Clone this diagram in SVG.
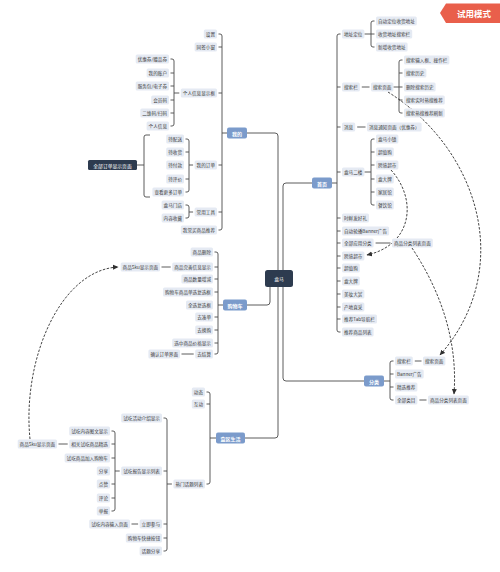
<svg xmlns="http://www.w3.org/2000/svg" width="500" height="572" viewBox="0 0 500 572">
<style>
text{font-family:"Noto Sans CJK SC","Noto Sans",sans-serif;text-anchor:middle;dominant-baseline:central}
.lb rect{fill:#e5eaf3}
.lb text{font-size:4.6px;fill:#3a3a3a}
.bn rect{fill:#7b9bcb}
.bn text{font-size:5px;fill:#fff;font-weight:bold}
.dn rect{fill:#2d3b4f}
.dn text{font-size:4.8px;fill:#fff}
.c path{fill:none;stroke:#4a4a4a;stroke-width:0.9}
.d path{fill:none;stroke:#2f2f2f;stroke-width:0.9;stroke-dasharray:2.5 1.5}
</style>
<defs>
<marker id="ah" markerUnits="userSpaceOnUse" markerWidth="6" markerHeight="6" refX="5" refY="3" orient="auto"><path d="M0,0.5 L5.5,3 L0,5.5 z" fill="#2f2f2f"/></marker>
</defs>
<rect width="500" height="572" fill="#ffffff"/>

<g id="connectors" class="c">
<!-- center -->
<path d="M278,270 V136 Q278,133 275,133 H247"/>
<path d="M283,270 V186 Q283,183 286,183 H312"/>
<path d="M270,287 V302 Q270,305 267,305 H247"/>
<path d="M278,287 V435 Q278,438 275,438 H245"/>
<path d="M283,287 V378 Q283,381 286,381 H364"/>
<!-- 首页 -->
<path d="M332,183 H337"/>
<path d="M340.5,34 H339 Q337,34 337,36 V330 Q337,332 339,332 H340.5"/>
<path d="M337,87 H340.5 M337,127 H340.5 M337,172 H340.5 M337,218 H340.5 M337,231 H340.5 M337,243 H340.5 M337,256 H340.5 M337,268 H340.5 M337,281 H340.5 M337,294 H340.5 M337,307 H340.5 M337,319 H340.5"/>
<path d="M364.4,34 H374.5"/>
<path d="M374.5,21 H373 Q371,21 371,23 V45 Q371,47 373,47 H374.5"/>
<path d="M361.8,87 H369.5"/>
<path d="M393.4,87 H399"/>
<path d="M402.5,60 H401 Q399,60 399,62 V111 Q399,113 401,113 H402.5"/>
<path d="M399,73 H402.5 M399,87 H402.5 M399,100 H402.5"/>
<path d="M357.2,127 H365.5"/>
<path d="M364.4,172 H371"/>
<path d="M374.5,139 H373 Q371,139 371,141 V203 Q371,205 373,205 H374.5"/>
<path d="M371,152 H374.5 M371,165 H374.5 M371,179 H374.5 M371,192 H374.5"/>
<path d="M375.6,243 H390.5"/>
<!-- 分类 -->
<path d="M384,381 H390"/>
<path d="M393.5,361 H392 Q390,361 390,363 V398 Q390,400 392,400 H393.5"/>
<path d="M390,374 H393.5 M390,387 H393.5"/>
<path d="M414.8,361 H421.5"/>
<path d="M419.4,400 H426.5"/>
<!-- 我的 -->
<path d="M227,133 H222"/>
<path d="M218.5,34 H220 Q222,34 222,36 V228 Q222,230 220,230 H218.5"/>
<path d="M222,47 H218.5 M222,93 H218.5 M222,165 H218.5 M222,212 H218.5"/>
<path d="M179.3,93 H174"/>
<path d="M170.5,59 H172 Q174,59 174,61 V124 Q174,126 172,126 H170.5"/>
<path d="M174,73 H170.5 M174,86 H170.5 M174,100 H170.5 M174,113 H170.5"/>
<path d="M193.1,165 H189"/>
<path d="M185.5,139 H187 Q189,139 189,141 V190 Q189,192 187,192 H185.5"/>
<path d="M189,152 H185.5 M189,179 H185.5"/>
<path d="M137,165 H144"/>
<path d="M150,135 H146 Q144,135 144,137 V195 Q144,197 146,197 H150"/>
<path d="M193.1,212 H189"/>
<path d="M185.5,205 H187 Q189,205 189,207 V216 Q189,218 187,218 H185.5"/>
<!-- 购物车 -->
<path d="M223,305 H218"/>
<path d="M214.5,252 H216 Q218,252 218,254 V352 Q218,354 216,354 H214.5"/>
<path d="M218,267 H214.5 M218,279 H214.5 M218,292 H214.5 M218,317 H214.5 M218,330 H214.5 M218,343 H214.5"/>
<path d="M170.7,267 H161.5"/>
<path d="M193.7,354 H181.5"/>
<!-- 盒区生活 -->
<path d="M216,438 H210"/>
<path d="M206.5,392 H208 Q210,392 210,394 V482 Q210,484 208,484 H206.5"/>
<path d="M210,404 H206.5"/>
<path d="M171.9,484 H167"/>
<path d="M163.5,418 H165 Q167,418 167,420 V549 Q167,551 165,551 H163.5"/>
<path d="M167,471 H163.5 M167,524 H163.5 M167,538 H163.5"/>
<path d="M138.1,524 H131.5"/>
<path d="M119.7,471 H115"/>
<path d="M111.5,431 H113 Q115,431 115,433 V509 Q115,511 113,511 H111.5"/>
<path d="M115,444 H111.5 M115,458 H111.5 M115,484 H111.5 M115,498 H111.5"/>
<path d="M67.7,444 H58.5"/>
</g>

<g id="dashed-links" class="d">
<path d="M388,92 C480,150 515,270 440,355" marker-end="url(#ah)"/>
<path d="M412,248 C440,290 458,340 454,394" marker-end="url(#ah)"/>
<path d="M391,170 C418,200 412,245 367,255" marker-end="url(#ah)"/>
<path d="M30,439 C22,360 60,270 118,267" marker-end="url(#ah)"/>
</g>

<!-- root -->
<g id="n-hema" class="dn"><rect x="265" y="270" width="28" height="17" rx="2.5"/><text x="279" y="278.5">盒马</text></g>

<!-- 首页 -->
<g id="n-shouye" class="bn"><rect x="312" y="177.5" width="20" height="11" rx="2"/><text x="322" y="183">首页</text></g>
<g id="n-dizhi" class="lb"><rect x="342" y="29.5" width="22.4" height="9" rx="1.5"/><text x="353.2" y="34">地址定位</text></g>
<g id="n-dz1" class="lb"><rect x="376" y="16.5" width="40.8" height="9" rx="1.5"/><text x="396.4" y="21">自动定位收货地址</text></g>
<g id="n-dz2" class="lb"><rect x="376" y="29.5" width="36.2" height="9" rx="1.5"/><text x="394.1" y="34">收货地址搜索栏</text></g>
<g id="n-dz3" class="lb"><rect x="376" y="42.5" width="31.6" height="9" rx="1.5"/><text x="391.8" y="47">新增收货地址</text></g>
<g id="n-sousuolan" class="lb"><rect x="342" y="82.5" width="17.8" height="9" rx="1.5"/><text x="350.9" y="87">搜索栏</text></g>
<g id="n-sousuoye" class="lb"><rect x="371" y="82.5" width="22.4" height="9" rx="1.5"/><text x="382.2" y="87">搜索页面</text></g>
<g id="n-ss1" class="lb"><rect x="404" y="55.5" width="45.4" height="9" rx="1.5"/><text x="426.7" y="60">搜索输入框、操作栏</text></g>
<g id="n-ss2" class="lb"><rect x="404" y="68.5" width="22.4" height="9" rx="1.5"/><text x="415.2" y="73">搜索历史</text></g>
<g id="n-ss3" class="lb"><rect x="404" y="82.5" width="31.6" height="9" rx="1.5"/><text x="419.8" y="87">删除搜索历史</text></g>
<g id="n-ss4" class="lb"><rect x="404" y="95.5" width="40.8" height="9" rx="1.5"/><text x="424.4" y="100">搜索实时热搜推荐</text></g>
<g id="n-ss5" class="lb"><rect x="404" y="108.5" width="40.8" height="9" rx="1.5"/><text x="424.4" y="113">搜索热搜推荐刷新</text></g>
<g id="n-xiaoxi" class="lb"><rect x="342" y="122.5" width="13.2" height="9" rx="1.5"/><text x="348.6" y="127">消息</text></g>
<g id="n-xiaoxiye" class="lb"><rect x="367" y="122.5" width="54.6" height="9" rx="1.5"/><text x="394.3" y="127">消息通知页面（优惠券）</text></g>
<g id="n-erlou" class="lb"><rect x="342" y="167.5" width="22.4" height="9" rx="1.5"/><text x="353.2" y="172">盒马二楼</text></g>
<g id="n-el1" class="lb"><rect x="376" y="134.5" width="22.4" height="9" rx="1.5"/><text x="387.2" y="139">盒马小镇</text></g>
<g id="n-el2" class="lb"><rect x="376" y="147.5" width="17.8" height="9" rx="1.5"/><text x="384.9" y="152">超值购</text></g>
<g id="n-el3" class="lb"><rect x="376" y="160.5" width="22.4" height="9" rx="1.5"/><text x="387.2" y="165">跨境超市</text></g>
<g id="n-el4" class="lb"><rect x="376" y="174.5" width="17.8" height="9" rx="1.5"/><text x="384.9" y="179">盒大牌</text></g>
<g id="n-el5" class="lb"><rect x="376" y="187.5" width="17.8" height="9" rx="1.5"/><text x="384.9" y="192">家居馆</text></g>
<g id="n-el6" class="lb"><rect x="376" y="200.5" width="17.8" height="9" rx="1.5"/><text x="384.9" y="205">餐饮馆</text></g>
<g id="n-sx" class="lb"><rect x="342" y="213.5" width="27" height="9" rx="1.5"/><text x="355.5" y="218">时鲜发好礼</text></g>
<g id="n-banner1" class="lb"><rect x="342" y="226.5" width="47.1" height="9" rx="1.5"/><text x="365.5" y="231">自动轮播Banner广告</text></g>
<g id="n-qbfl" class="lb"><rect x="342" y="238.5" width="31.6" height="9" rx="1.5"/><text x="357.8" y="243">全部应用分类</text></g>
<g id="n-fllb1" class="lb"><rect x="392" y="238.5" width="40.8" height="9" rx="1.5"/><text x="412.4" y="243">商品分类列表页面</text></g>
<g id="n-kj" class="lb"><rect x="342" y="251.5" width="22.4" height="9" rx="1.5"/><text x="353.2" y="256">跨境超市</text></g>
<g id="n-czg" class="lb"><rect x="342" y="263.5" width="17.8" height="9" rx="1.5"/><text x="350.9" y="268">超值购</text></g>
<g id="n-hdp" class="lb"><rect x="342" y="276.5" width="17.8" height="9" rx="1.5"/><text x="350.9" y="281">盒大牌</text></g>
<g id="n-mz" class="lb"><rect x="342" y="289.5" width="22.4" height="9" rx="1.5"/><text x="353.2" y="294">美妆大赏</text></g>
<g id="n-cd" class="lb"><rect x="342" y="302.5" width="22.4" height="9" rx="1.5"/><text x="353.2" y="307">产地直采</text></g>
<g id="n-tab" class="lb"><rect x="342" y="314.5" width="35" height="9" rx="1.5"/><text x="359.5" y="319">推荐Tab导航栏</text></g>
<g id="n-tjsp" class="lb"><rect x="342" y="327.5" width="31.6" height="9" rx="1.5"/><text x="357.8" y="332">推荐商品列表</text></g>

<!-- 分类 -->
<g id="n-fenlei" class="bn"><rect x="364" y="375.5" width="20" height="11" rx="2"/><text x="374" y="381">分类</text></g>
<g id="n-fl-ssl" class="lb"><rect x="395" y="356.5" width="17.8" height="9" rx="1.5"/><text x="403.9" y="361">搜索栏</text></g>
<g id="n-fl-ssy" class="lb"><rect x="423" y="356.5" width="22.4" height="9" rx="1.5"/><text x="434.2" y="361">搜索页面</text></g>
<g id="n-fl-banner" class="lb"><rect x="395" y="369.5" width="28.7" height="9" rx="1.5"/><text x="409.35" y="374">Banner广告</text></g>
<g id="n-fl-jx" class="lb"><rect x="395" y="382.5" width="22.4" height="9" rx="1.5"/><text x="406.2" y="387">精选推荐</text></g>
<g id="n-fl-qblm" class="lb"><rect x="395" y="395.5" width="22.4" height="9" rx="1.5"/><text x="406.2" y="400">全部类目</text></g>
<g id="n-fl-fllb" class="lb"><rect x="428" y="395.5" width="40.8" height="9" rx="1.5"/><text x="448.4" y="400">商品分类列表页面</text></g>

<!-- 我的 -->
<g id="n-wode" class="bn"><rect x="227" y="127.5" width="20" height="11" rx="2"/><text x="237" y="133">我的</text></g>
<g id="n-shezhi" class="lb"><rect x="203.8" y="29.5" width="13.2" height="9" rx="1.5"/><text x="210.4" y="34">设置</text></g>
<g id="n-tqxc" class="lb"><rect x="194.6" y="42.5" width="22.4" height="9" rx="1.5"/><text x="205.8" y="47">同签小窗</text></g>
<g id="n-grxx" class="lb"><rect x="180.8" y="88.5" width="36.2" height="9" rx="1.5"/><text x="198.9" y="93">个人信息显示框</text></g>
<g id="n-yhq" class="lb"><rect x="135.7" y="54.5" width="33.3" height="9" rx="1.5"/><text x="152.35" y="59">优惠券/赠品券</text></g>
<g id="n-zh" class="lb"><rect x="146.6" y="68.5" width="22.4" height="9" rx="1.5"/><text x="157.8" y="73">我的账户</text></g>
<g id="n-fwb" class="lb"><rect x="135.7" y="81.5" width="33.3" height="9" rx="1.5"/><text x="152.35" y="86">服务包/电子券</text></g>
<g id="n-hym" class="lb"><rect x="151.2" y="95.5" width="17.8" height="9" rx="1.5"/><text x="160.1" y="100">会员码</text></g>
<g id="n-ewm" class="lb"><rect x="140.3" y="108.5" width="28.7" height="9" rx="1.5"/><text x="154.65" y="113">二维码/扫码</text></g>
<g id="n-grxx2" class="lb"><rect x="146.6" y="121.5" width="22.4" height="9" rx="1.5"/><text x="157.8" y="126">个人信息</text></g>
<g id="n-wddd" class="lb"><rect x="194.6" y="160.5" width="22.4" height="9" rx="1.5"/><text x="205.8" y="165">我的订单</text></g>
<g id="n-dps" class="lb"><rect x="166.2" y="134.5" width="17.8" height="9" rx="1.5"/><text x="175.1" y="139">待配送</text></g>
<g id="n-dsh" class="lb"><rect x="166.2" y="147.5" width="17.8" height="9" rx="1.5"/><text x="175.1" y="152">待收货</text></g>
<g id="n-dfk" class="lb"><rect x="166.2" y="160.5" width="17.8" height="9" rx="1.5"/><text x="175.1" y="165">待付款</text></g>
<g id="n-dpj" class="lb"><rect x="166.2" y="174.5" width="17.8" height="9" rx="1.5"/><text x="175.1" y="179">待评价</text></g>
<g id="n-ckgd" class="lb"><rect x="152.4" y="187.5" width="31.6" height="9" rx="1.5"/><text x="168.2" y="192">查看更多订单</text></g>
<g id="n-qbdd" class="dn"><rect x="88" y="160" width="49" height="10" rx="1.5"/><text x="112.5" y="165">全部订单显示页面</text></g>
<g id="n-cygj" class="lb"><rect x="194.6" y="207.5" width="22.4" height="9" rx="1.5"/><text x="205.8" y="212">常用工具</text></g>
<g id="n-hmmd" class="lb"><rect x="161.6" y="200.5" width="22.4" height="9" rx="1.5"/><text x="172.8" y="205">盒马门店</text></g>
<g id="n-nrsc" class="lb"><rect x="161.6" y="213.5" width="22.4" height="9" rx="1.5"/><text x="172.8" y="218">内容收藏</text></g>
<g id="n-wcm" class="lb"><rect x="180.8" y="225.5" width="36.2" height="9" rx="1.5"/><text x="198.9" y="230">我常买商品推荐</text></g>

<!-- 购物车 -->
<g id="n-gwc" class="bn"><rect x="223" y="299.5" width="24" height="11" rx="2"/><text x="235" y="305">购物车</text></g>
<g id="n-spsc" class="lb"><rect x="190.6" y="247.5" width="22.4" height="9" rx="1.5"/><text x="201.8" y="252">商品删除</text></g>
<g id="n-spws" class="lb"><rect x="172.2" y="262.5" width="40.8" height="9" rx="1.5"/><text x="192.6" y="267">商品完善信息显示</text></g>
<g id="n-sku1" class="lb"><rect x="120.7" y="262.5" width="39.3" height="9" rx="1.5"/><text x="140.35" y="267">商品Sku显示页面</text></g>
<g id="n-spsl" class="lb"><rect x="181.4" y="274.5" width="31.6" height="9" rx="1.5"/><text x="197.2" y="279">商品数量增减</text></g>
<g id="n-dxfx" class="lb"><rect x="163" y="287.5" width="50" height="9" rx="1.5"/><text x="188" y="292">购物车商品单选复选框</text></g>
<g id="n-qxfx" class="lb"><rect x="186" y="300.5" width="27" height="9" rx="1.5"/><text x="199.5" y="305">全选复选框</text></g>
<g id="n-qcd" class="lb"><rect x="195.2" y="312.5" width="17.8" height="9" rx="1.5"/><text x="204.1" y="317">去凑单</text></g>
<g id="n-qhg" class="lb"><rect x="195.2" y="325.5" width="17.8" height="9" rx="1.5"/><text x="204.1" y="330">去换购</text></g>
<g id="n-xzjg" class="lb"><rect x="172.2" y="338.5" width="40.8" height="9" rx="1.5"/><text x="192.6" y="343">选中商品价格显示</text></g>
<g id="n-qjs" class="lb"><rect x="195.2" y="349.5" width="17.8" height="9" rx="1.5"/><text x="204.1" y="354">去结算</text></g>
<g id="n-qrdd" class="lb"><rect x="148.4" y="349.5" width="31.6" height="9" rx="1.5"/><text x="164.2" y="354">确认订单界面</text></g>

<!-- 盒区生活 -->
<g id="n-hqsh" class="bn"><rect x="216" y="432.5" width="29" height="11" rx="2"/><text x="230.5" y="438">盒区生活</text></g>
<g id="n-dt" class="lb"><rect x="191.8" y="387.5" width="13.2" height="9" rx="1.5"/><text x="198.4" y="392">动态</text></g>
<g id="n-hd" class="lb"><rect x="191.8" y="399.5" width="13.2" height="9" rx="1.5"/><text x="198.4" y="404">互动</text></g>
<g id="n-rmht" class="lb"><rect x="173.4" y="479.5" width="31.6" height="9" rx="1.5"/><text x="189.2" y="484">热门话题列表</text></g>
<g id="n-schd" class="lb"><rect x="121.2" y="413.5" width="40.8" height="9" rx="1.5"/><text x="141.6" y="418">试吃活动介绍显示</text></g>
<g id="n-scbg" class="lb"><rect x="121.2" y="466.5" width="40.8" height="9" rx="1.5"/><text x="141.6" y="471">试吃报告显示列表</text></g>
<g id="n-ljcy" class="lb"><rect x="139.6" y="519.5" width="22.4" height="9" rx="1.5"/><text x="150.8" y="524">立即参与</text></g>
<g id="n-scsr" class="lb"><rect x="89.2" y="519.5" width="40.8" height="9" rx="1.5"/><text x="109.6" y="524">试吃内容输入页面</text></g>
<g id="n-kjan" class="lb"><rect x="125.8" y="533.5" width="36.2" height="9" rx="1.5"/><text x="143.9" y="538">购物车快捷按钮</text></g>
<g id="n-htfx" class="lb"><rect x="139.6" y="546.5" width="22.4" height="9" rx="1.5"/><text x="150.8" y="551">话题分享</text></g>
<g id="n-sctw" class="lb"><rect x="69.2" y="426.5" width="40.8" height="9" rx="1.5"/><text x="89.6" y="431">试吃内容图文显示</text></g>
<g id="n-xgsc" class="lb"><rect x="69.2" y="439.5" width="40.8" height="9" rx="1.5"/><text x="89.6" y="444">相关试吃商品精选</text></g>
<g id="n-sku2" class="lb"><rect x="17.7" y="439.5" width="39.3" height="9" rx="1.5"/><text x="37.35" y="444">商品Sku显示页面</text></g>
<g id="n-scjr" class="lb"><rect x="64.6" y="453.5" width="45.4" height="9" rx="1.5"/><text x="87.3" y="458">试吃商品加入购物车</text></g>
<g id="n-fx" class="lb"><rect x="96.8" y="466.5" width="13.2" height="9" rx="1.5"/><text x="103.4" y="471">分享</text></g>
<g id="n-dz" class="lb"><rect x="96.8" y="479.5" width="13.2" height="9" rx="1.5"/><text x="103.4" y="484">点赞</text></g>
<g id="n-pl" class="lb"><rect x="96.8" y="493.5" width="13.2" height="9" rx="1.5"/><text x="103.4" y="498">评论</text></g>
<g id="n-jb" class="lb"><rect x="96.8" y="506.5" width="13.2" height="9" rx="1.5"/><text x="103.4" y="511">举报</text></g>

<!-- badge -->
<g id="badge">
<polygon points="440,13 446,3.5 500,3.5 500,23 446,23" fill="#e95f4b"/>
<text x="474" y="12.5" font-size="8.5" font-weight="bold" fill="#ffffff">试用模式</text>
</g>
</svg>
